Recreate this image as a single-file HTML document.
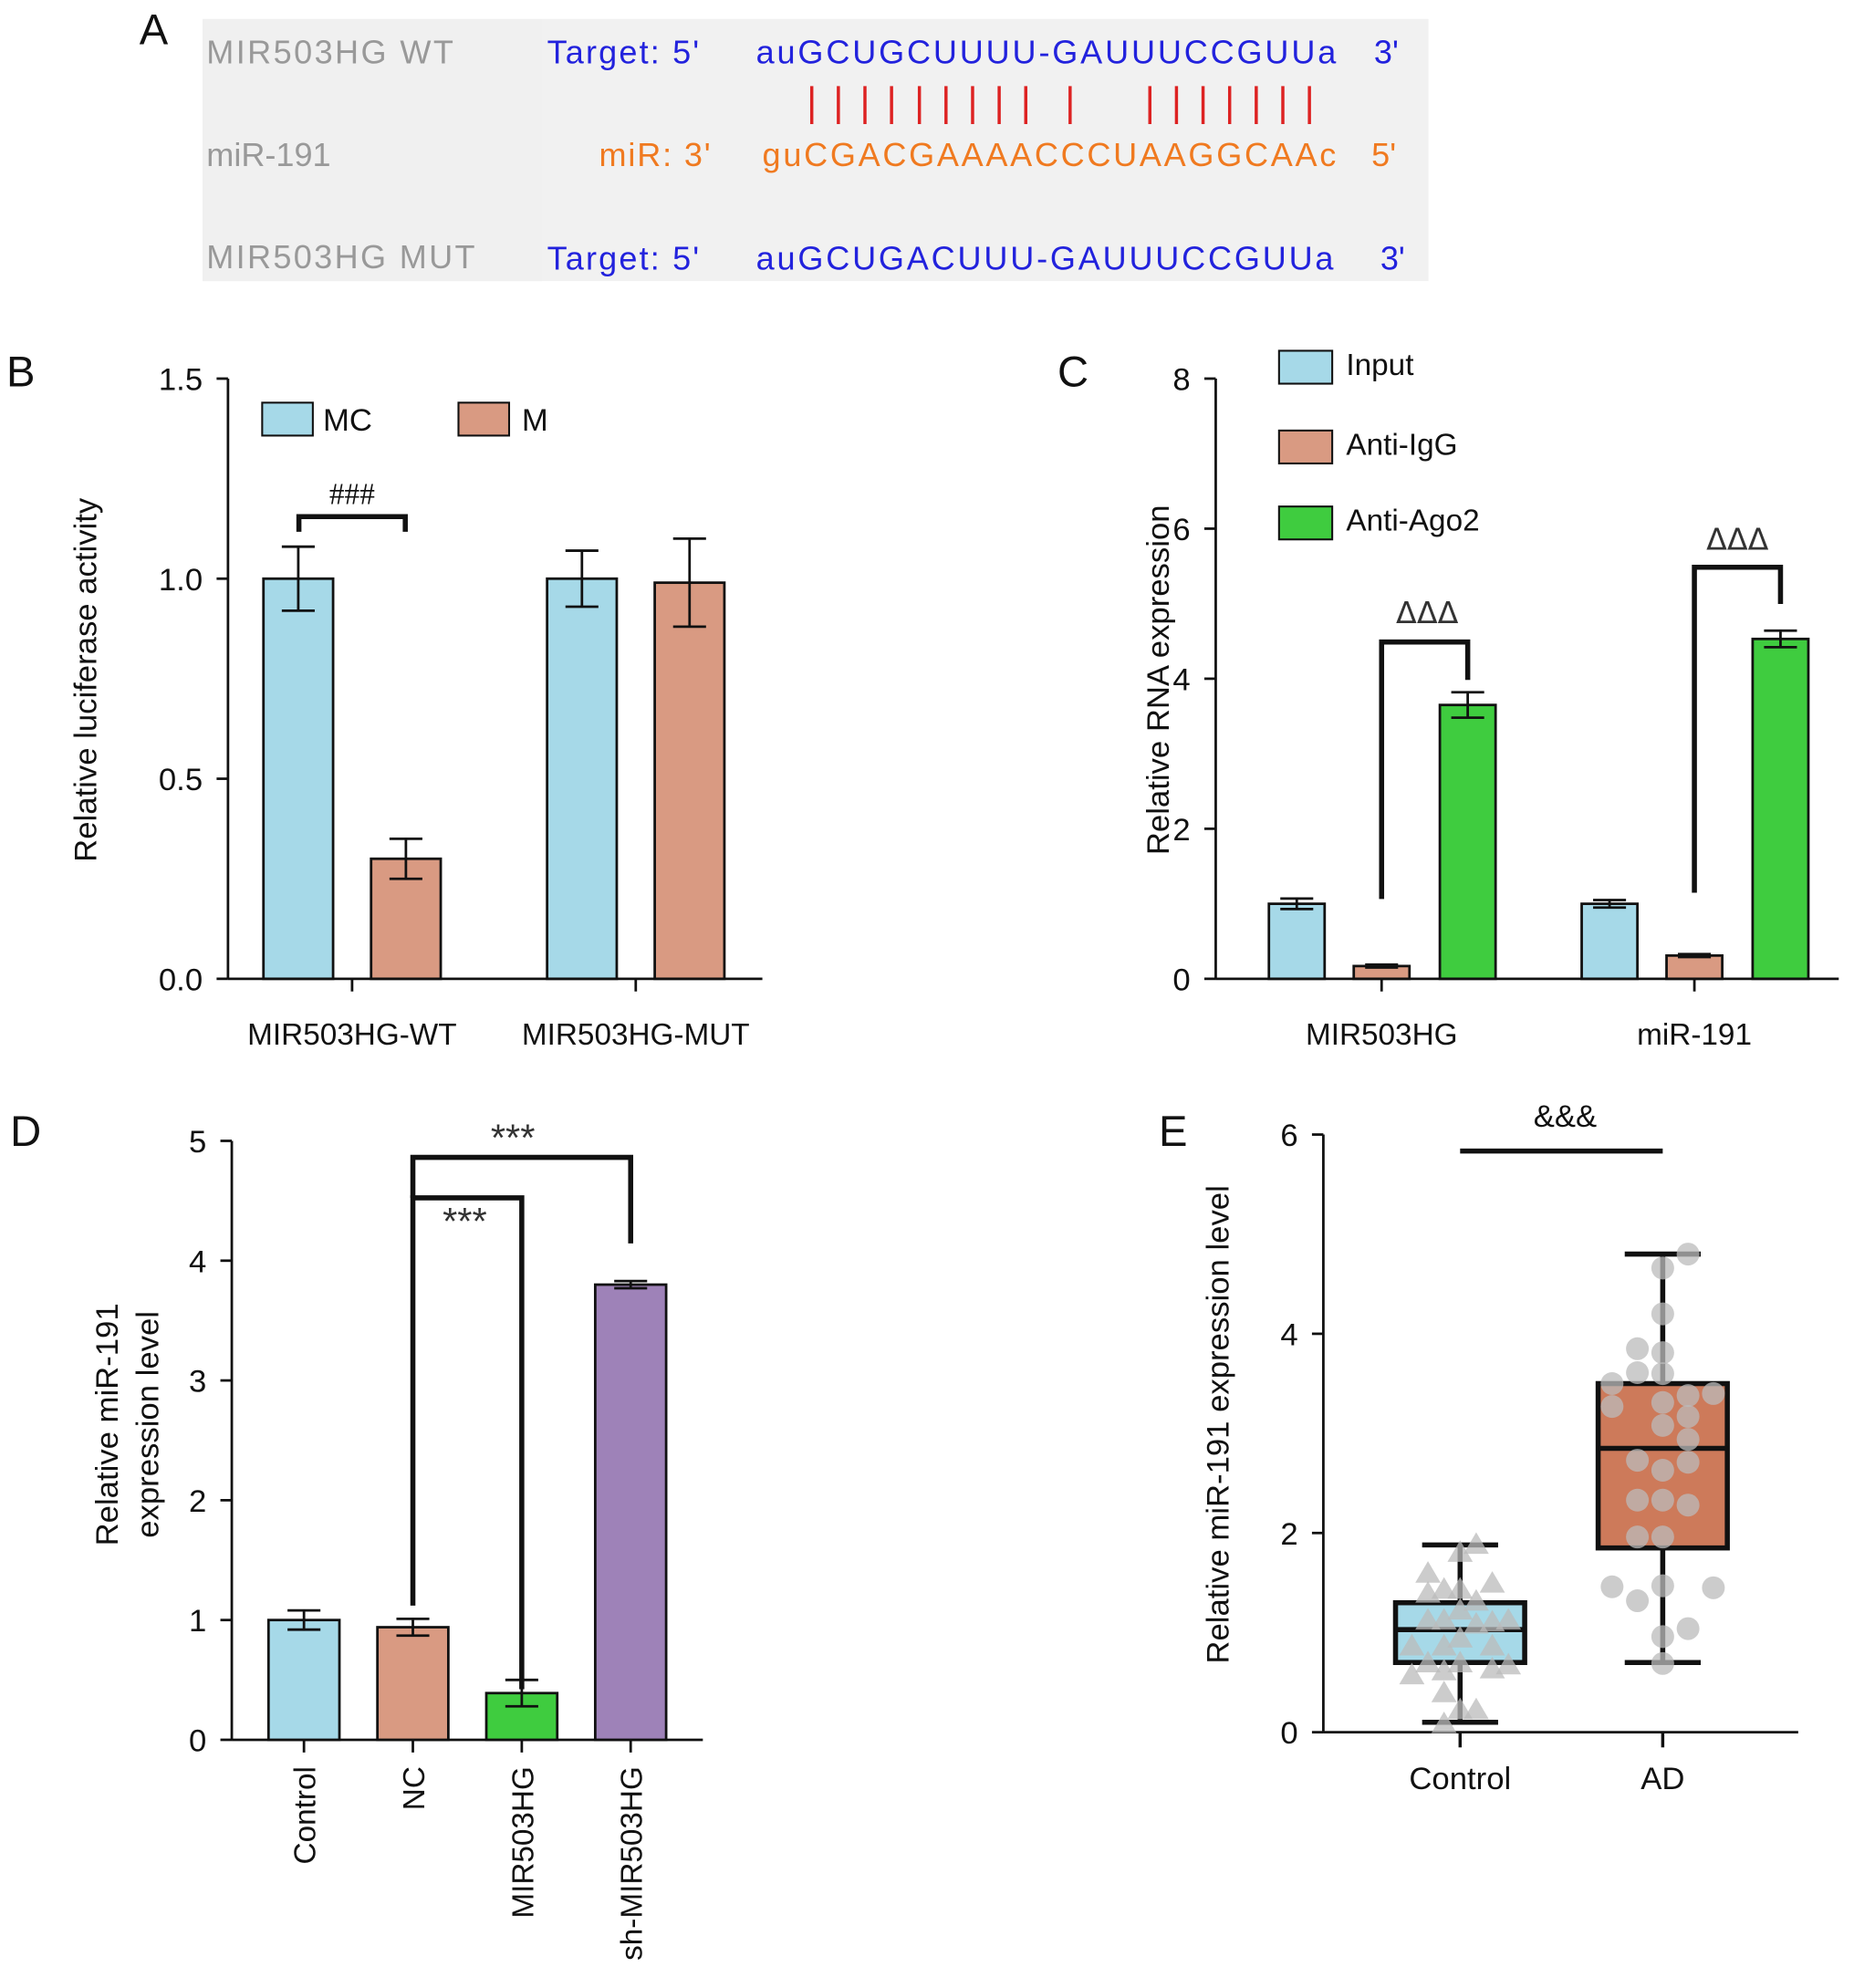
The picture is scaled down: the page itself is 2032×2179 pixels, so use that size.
<!DOCTYPE html>
<html><head><meta charset="utf-8"><style>
html,body{margin:0;padding:0;background:#fff;}
svg{display:block;font-family:"Liberation Sans",sans-serif;}
</style></head><body>
<svg id="fig" width="2032" height="2179" viewBox="0 0 1464 1570" xmlns="http://www.w3.org/2000/svg">
<g>
<rect x="160" y="15" width="968" height="207" fill="#f1f1f1"/>
<rect x="160" y="15" width="268" height="207" fill="#f0f0f0"/>
<text x="110" y="35" font-size="34" fill="#111">A</text>
<g font-size="26" fill="#999"><text x="163" y="50" textLength="195">MIR503HG WT</text><text x="163" y="131">miR-191</text><text x="163" y="212" textLength="212">MIR503HG MUT</text></g>
<g font-size="26" fill="#2222dd"><text x="432" y="50" textLength="120">Target: 5'</text><text x="597" y="50" textLength="458">auGCUGCUUUU-GAUUUCCGUUa</text><text x="1085" y="50">3'</text>
<text x="432" y="213" textLength="120">Target: 5'</text><text x="597" y="213" textLength="456">auGCUGACUUU-GAUUUCCGUUa</text><text x="1090" y="213">3'</text></g>
<g font-size="26" fill="#f07a20"><text x="473" y="131" textLength="88">miR: 3'</text><text x="602" y="131" textLength="453">guCGACGAAAACCCUAAGGCAAc</text><text x="1083" y="131">5'</text></g>
<g id="pairs" stroke="#dd2222" stroke-width="2.5"></g>
</g>
<g font-size="34" fill="#111"><text x="5" y="305">B</text><text x="835" y="305">C</text><text x="8" y="905">D</text><text x="915" y="905">E</text></g>
<g id="pb"></g>
<g id="pc"></g>
<g id="pd"></g>
<g id="pe"></g>
</svg>
<script>
// Panel B data
const bCats=["MIR503HG-WT","MIR503HG-MUT"];
const bMC=[1.0,1.0], bMCerr=[0.08,0.07];
const bM=[0.30,0.99], bMerr=[0.05,0.11];
const bTicks=["0.0","0.5","1.0","1.5"];
// Panel C data
const cCats=["MIR503HG","miR-191"];
const cInput=[1.0,1.0], cInputErr=[0.07,0.05];
const cIgG=[0.17,0.31], cIgGErr=[0.02,0.02];
const cAgo=[3.65,4.53], cAgoErr=[0.17,0.11];
const cTicks=["0","2","4","6","8"];
// Panel D data
const dCats=["Control","NC","MIR503HG","sh-MIR503HG"];
const dVals=[1.0,0.94,0.39,3.80], dErr=[0.08,0.07,0.11,0.03];
const dTicks=["0","1","2","3","4","5"];
// Panel E data
const eCats=["Control","AD"];
const eStats=[[0.1,0.7,1.03,1.3,1.88],[0.7,1.85,2.85,3.5,4.8]];
const eCtrl=[1.88,1.8,1.59,1.49,1.43,1.43,1.39,1.31,1.22,1.12,1.12,1.08,1.12,1.1,0.86,0.86,0.86,0.94,0.69,0.69,0.67,0.57,0.61,0.63,0.39,0.22,0.22,0.08];
const eCtrlJ=[1,0,-2,2,-1,0,-2,1,0,-2,-1,1,3,2,-3,-1,2,0,-2,0,3,-3,-1,2,-1,0,1,-1];
const eAD=[4.8,4.66,4.2,3.85,3.81,3.61,3.6,3.5,3.4,3.38,3.27,3.31,3.17,3.08,2.94,2.73,2.71,2.63,2.33,2.33,2.28,1.96,1.96,1.46,1.32,1.47,1.45,1.04,0.96,0.69];
const eADJ=[1,0,0,-1,0,-1,0,-2,2,1,-2,0,1,0,1,-1,1,0,-1,0,1,-1,0,-2,-1,0,2,1,0,0];
const eTicks=["0","2","4","6"];

const NS="http://www.w3.org/2000/svg";
function mk(p,tag,a,txt){const e=document.createElementNS(NS,tag);for(const k in a)e.setAttribute(k,a[k]);if(txt!==undefined)e.textContent=txt;p.appendChild(e);return e;}
const K="#111";
const pg=document.getElementById('pairs');
[641,662,683,704,726,747,768,789,810,845,908,929,950,971,992,1013,1034].forEach(x=>{mk(pg,'line',{x1:x,y1:68,x2:x,y2:98});});

function yAxis(g,x,y0,y1,ticks){
  const a=mk(g,'line',{x1:x,y1:y0,x2:x,y2:y1,stroke:K,'stroke-width':2});
  
  ticks.forEach((t,i)=>{const y=y0+(y1-y0)*i/(ticks.length-1);
    mk(g,'line',{x1:x-9,y1:y,x2:x,y2:y,stroke:K,'stroke-width':2});
    const tl=mk(g,'text',{x:x-20,y:y+9,'text-anchor':'end','font-size':25,fill:K},t);
    });
}
function bar(g,x,w,y0,yv,fill,err,sc,name){
  const r=mk(g,'rect',{x:x,y:yv,width:w,height:y0-yv,fill:fill,stroke:K,'stroke-width':2});
  
  const c=x+w/2,e=err*sc;
  mk(g,'path',{d:`M${c-13},${yv-e}H${c+13}M${c},${yv-e}V${yv+e}M${c-13},${yv+e}H${c+13}`,stroke:K,'stroke-width':2,fill:'none'});
}
const BLUE="#a6d9e8",SAL="#d99a82",GRN="#3fcc3f",PUR="#9e82b8";

// Panel B
(function(){const g=document.getElementById('pb');const x0=180,y0=773,y1=299,max=1.5;const sc=(y0-y1)/max;const Y=v=>y0-v*sc;
 yAxis(g,x0,y0,y1,bTicks);
 mk(g,'line',{x1:x0,y1:y0,x2:602,y2:y0,stroke:K,'stroke-width':2});
 const gx=[278,502];
 bCats.forEach((c,i)=>{mk(g,'line',{x1:gx[i],y1:y0,x2:gx[i],y2:y0+10,stroke:K,'stroke-width':2});
  const t=mk(g,'text',{x:gx[i],y:825,'text-anchor':'middle','font-size':24,fill:K},c);
  bar(g,gx[i]-70,55,y0,Y(bMC[i]),BLUE,bMCerr[i],sc,'bar-mc');
  bar(g,gx[i]+15,55,y0,Y(bM[i]),SAL,bMerr[i],sc,'bar-m');});
 const yt=mk(g,'text',{x:0,y:0,'font-size':25,fill:K,'text-anchor':'middle',transform:'translate(76,537) rotate(-90)'},'Relative luciferase activity');
 
 mk(g,'rect',{x:207,y:318,width:40,height:26,fill:BLUE,stroke:K,'stroke-width':1.5});mk(g,'text',{x:255,y:340,'font-size':25,fill:K},'MC');
 mk(g,'rect',{x:362,y:318,width:40,height:26,fill:SAL,stroke:K,'stroke-width':1.5});mk(g,'text',{x:412,y:340,'font-size':25,fill:K},'M');
 mk(g,'path',{d:'M236,420V408H320V420',stroke:K,'stroke-width':4,fill:'none'});
 mk(g,'text',{x:278,y:398,'text-anchor':'middle','font-size':24,fill:K,'font-family':'Liberation Serif'},'###');
})();

// Panel C
(function(){const g=document.getElementById('pc');const x0=960,y0=773,y1=299,max=8;const sc=(y0-y1)/max;const Y=v=>y0-v*sc;
 yAxis(g,x0,y0,y1,cTicks);
 mk(g,'line',{x1:x0,y1:y0,x2:1452,y2:y0,stroke:K,'stroke-width':2});
 const gx=[1091,1338];
 cCats.forEach((c,i)=>{mk(g,'line',{x1:gx[i],y1:y0,x2:gx[i],y2:y0+10,stroke:K,'stroke-width':2});
  const t=mk(g,'text',{x:gx[i],y:825,'text-anchor':'middle','font-size':24,fill:K},c);
  bar(g,gx[i]-89,44,y0,Y(cInput[i]),BLUE,cInputErr[i],sc,'bar-input');
  bar(g,gx[i]-22,44,y0,Y(cIgG[i]),SAL,cIgGErr[i],sc,'bar-anti-igg');
  bar(g,gx[i]+46,44,y0,Y(cAgo[i]),GRN,cAgoErr[i],sc,'bar-anti-ago2');});
 const yt=mk(g,'text',{x:0,y:0,'font-size':25,fill:K,'text-anchor':'middle',transform:'translate(923,537) rotate(-90)'},'Relative RNA expression');
 
 [["Input",BLUE,277],["Anti-IgG",SAL,340],["Anti-Ago2",GRN,400]].forEach(l=>{
  const r=mk(g,'rect',{x:1010,y:l[2],width:42,height:26,fill:l[1],stroke:K,'stroke-width':1.5});
  mk(g,'text',{x:1063,y:l[2]+19,'font-size':24,fill:K},l[0]);});
 mk(g,'path',{d:`M1091,710V507H1159V537`,stroke:K,'stroke-width':4,fill:'none'});
 mk(g,'path',{d:`M1338,705V448H1406V477`,stroke:K,'stroke-width':4,fill:'none'});
 mk(g,'text',{x:1127,y:492,'text-anchor':'middle','font-size':24,fill:'#333','font-family':'DejaVu Sans'},'ΔΔΔ');
 mk(g,'text',{x:1372,y:434,'text-anchor':'middle','font-size':24,fill:'#333','font-family':'DejaVu Sans'},'ΔΔΔ');
})();

// Panel D
(function(){const g=document.getElementById('pd');const x0=183,y0=1374,y1=901,max=5;const sc=(y0-y1)/max;const Y=v=>y0-v*sc;
 yAxis(g,x0,y0,y1,dTicks);
 mk(g,'line',{x1:x0,y1:y0,x2:555,y2:y0,stroke:K,'stroke-width':2});
 const cols=[BLUE,SAL,GRN,PUR];
 dCats.forEach((c,i)=>{const cx=240+i*86;
  mk(g,'line',{x1:cx,y1:y0,x2:cx,y2:y0+10,stroke:K,'stroke-width':2});
  const t=mk(g,'text',{x:0,y:0,'font-size':24,fill:K,'text-anchor':'end',transform:`translate(${cx+9},${1395}) rotate(-90)`},c);
  bar(g,cx-28,56,y0,Y(dVals[i]),cols[i],dErr[i],sc,'bar-'+c.toLowerCase());});
 const yt=mk(g,'text',{x:0,y:0,'font-size':25,fill:K,'text-anchor':'middle',transform:'translate(93,1125) rotate(-90)'},'Relative miR-191');
 const yt2=mk(g,'text',{x:0,y:0,'font-size':25,fill:K,'text-anchor':'middle',transform:'translate(125,1125) rotate(-90)'},'expression level');
 
 mk(g,'path',{d:'M326,1268V946H412V1334',stroke:K,'stroke-width':4,fill:'none'});
 mk(g,'path',{d:'M326,946V914H498V982',stroke:K,'stroke-width':4,fill:'none'});
 mk(g,'text',{x:367,y:975,'text-anchor':'middle','font-size':30,fill:'#333'},'***');
 mk(g,'text',{x:405,y:909,'text-anchor':'middle','font-size':30,fill:'#333'},'***');
})();

// Panel E
(function(){const g=document.getElementById('pe');const x0=1045,y0=1368,y1=896,max=6;const sc=(y0-y1)/max;const Y=v=>y0-v*sc;
 yAxis(g,x0,y0,y1,eTicks);
 mk(g,'line',{x1:x0,y1:y0,x2:1420,y2:y0,stroke:K,'stroke-width':2});
 const gx=[1153,1313],fills=["#a6d9e8","#cd7a5a"];
 eCats.forEach((c,i)=>{mk(g,'line',{x1:gx[i],y1:y0,x2:gx[i],y2:y0+12,stroke:K,'stroke-width':2.5});
  const t=mk(g,'text',{x:gx[i],y:1413,'text-anchor':'middle','font-size':25,fill:K},c);
  const s=eStats[i],w=51,cx=gx[i];
  const b=mk(g,'rect',{x:cx-w,y:Y(s[3]),width:2*w,height:Y(s[1])-Y(s[3]),fill:fills[i],stroke:K,'stroke-width':4});
  
  mk(g,'path',{d:`M${cx-w},${Y(s[2])}H${cx+w}M${cx},${Y(s[3])}V${Y(s[4])}M${cx},${Y(s[1])}V${Y(s[0])}M${cx-30},${Y(s[4])}H${cx+30}M${cx-30},${Y(s[0])}H${cx+30}`,stroke:K,'stroke-width':4,fill:'none'});
 });
 eCtrl.forEach((v,i)=>{const x=gx[0]+eCtrlJ[i]*12.7,y=Y(v);
  const p=mk(g,'path',{d:`M${x},${y-10}L${x+10},${y+7}L${x-10},${y+7}Z`,fill:'#bbb','fill-opacity':0.75});
  });
 eAD.forEach((v,i)=>{const c=mk(g,'circle',{cx:gx[1]+eADJ[i]*20,cy:Y(v),r:9,fill:'#bbb','fill-opacity':0.75});
  });
 const yt=mk(g,'text',{x:0,y:0,'font-size':25,fill:K,'text-anchor':'middle',transform:'translate(970,1125) rotate(-90)'},'Relative miR-191 expression level');
 
 mk(g,'line',{x1:1153,y1:909,x2:1313,y2:909,stroke:K,'stroke-width':4});
 mk(g,'text',{x:1236,y:890,'text-anchor':'middle','font-size':25,fill:K},'&&&');
})();
</script>
</body></html>
